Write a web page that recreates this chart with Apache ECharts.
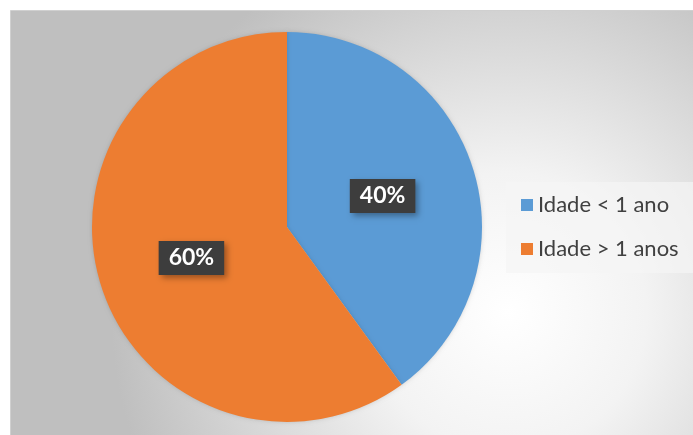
<!DOCTYPE html>
<html>
<head>
<meta charset="utf-8">
<script src="https://cdn.jsdelivr.net/npm/echarts@6/dist/echarts.min.js"></script>
<style>
  html, body { margin: 0; padding: 0; background: #ffffff; }
  #chart { width: 693px; height: 435px; }
</style>
</head>
<body>
<div id="chart"></div>
<script>
// Age groups and their shares (percent)
const categories = ['Idade < 1 ano', 'Idade > 1 anos'];
const shares = [40, 60];
const colors = ['#5B9BD5', '#ED7D31'];

const chart = echarts.init(document.getElementById('chart'), null, { renderer: 'canvas' });

const pieData = categories.map((name, i) => ({
  name: name,
  value: shares[i],
  itemStyle: { color: colors[i] }
}));

chart.setOption({
  animation: false,
  graphic: [
    {
      // chart area with soft radial shading
      type: 'rect',
      z: -10,
      shape: { x: 10.5, y: 10.5, width: 690, height: 430 },
      style: {
        fill: {
          type: 'radial', x: 0.72, y: 0.7, r: 0.92,
          colorStops: [
            { offset: 0, color: '#ffffff' },
            { offset: 0.35, color: '#f3f3f3' },
            { offset: 1, color: '#bfbfbf' }
          ]
        },
        stroke: '#d0d0d0',
        lineWidth: 1
      }
    },
    {
      // legend panel
      type: 'rect',
      z: -5,
      shape: { x: 506, y: 182, width: 190, height: 91 },
      style: { fill: 'rgba(245,245,245,0.7)' }
    }
  ],
  legend: {
    orient: 'vertical',
    left: 516,
    top: 189,
    itemWidth: 12,
    itemHeight: 12,
    itemGap: 22,
    icon: 'rect',
    textStyle: {
      fontFamily: 'Lato',
      fontSize: 22,
      color: '#404040',
      padding: [0, 0, 0, 0]
    },
    data: categories
  },
  series: [{
    type: 'pie',
    center: [287, 227],
    radius: 195,
    startAngle: 90,
    clockwise: true,
    data: pieData,
    label: {
      show: true,
      position: 'inside',
      formatter: p => p.value + '%',
      color: '#ffffff',
      fontFamily: 'Lato',
      fontWeight: 'bold',
      fontSize: 23,
      backgroundColor: '#3d3d3d',
      padding: [6, 10, 5, 10],
      shadowColor: 'rgba(0,0,0,0.35)',
      shadowBlur: 6,
      shadowOffsetX: 3,
      shadowOffsetY: 3
    },
    labelLine: { show: false },
    itemStyle: {
      borderWidth: 0,
      shadowColor: 'rgba(0,0,0,0.15)',
      shadowBlur: 4
    },
    emphasis: { disabled: true }
  }]
});
</script>
</body>
</html>
